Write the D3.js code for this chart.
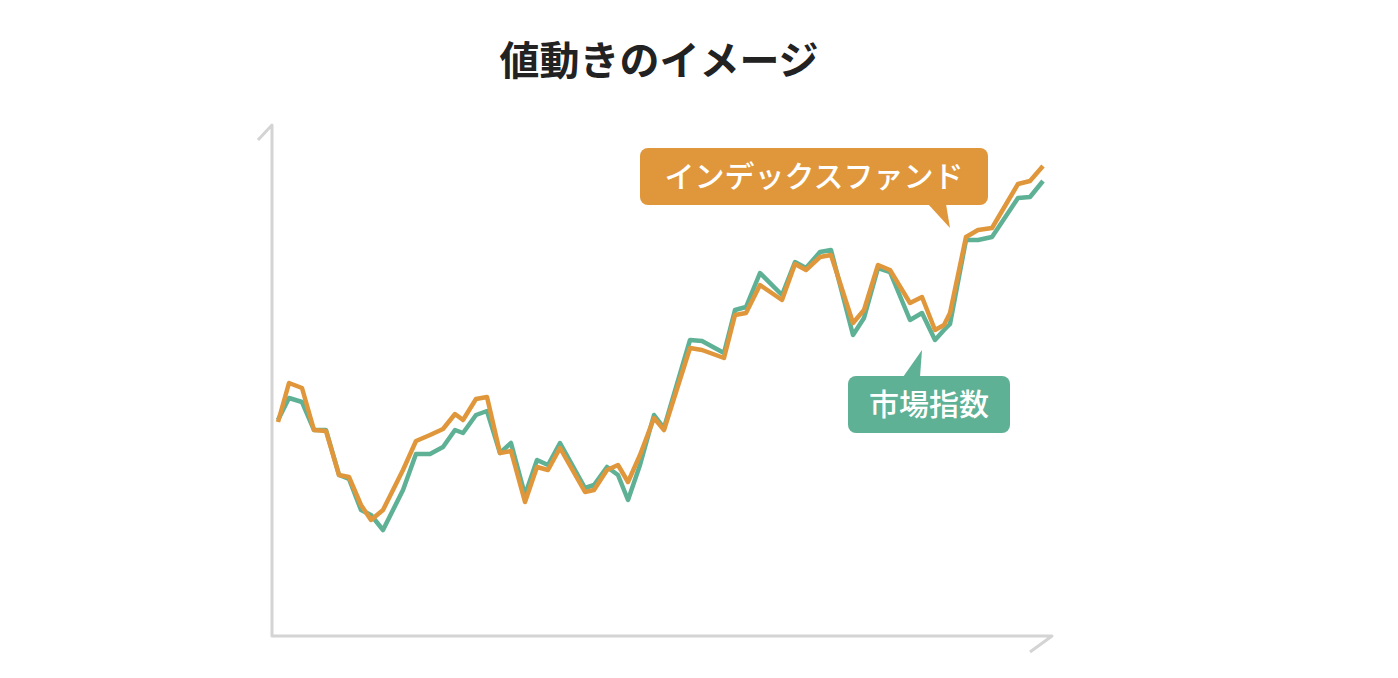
<!DOCTYPE html><html><head><meta charset="utf-8"><script src="https://cdn.jsdelivr.net/npm/d3@7"></script>
<style>body{margin:0;background:#fff}</style></head><body><svg id="c" width="1398" height="678"></svg><script>
const days=[0,11,24,36,48,61,71,83,93,105,125,138,152,165,177,185,198,209,222,233,247,259,270,282,307,316,329,340,350,362,376,386,412,424,446,457,468,482,504,517,528,542,553,575,586,600,612,632,644,657,666,672,688,700,714,740,752,765];
const fund=[214,253,248,206,205,161,159,131,116,126,166,195,201,207,222,216,237,239,183,185,134,169,166,188,144,146,166,171,154,181,218,206,288,286,278,321,323,351,336,372,366,379,381,313,326,371,366,333,339,306,311,323,399,406,408,452,455,470];
const market=[216,238,234,206,206,161,157,126,121,106,146,182,182,189,206,203,221,225,183,193,141,176,171,193,148,151,169,161,136,171,221,208,296,295,283,326,329,363,341,374,368,384,386,301,318,368,364,316,323,296,306,312,396,396,399,438,439,455];
const title="値動きのイメージ", fundLabel="インデックスファンド", marketLabel="市場指数";
const svg=d3.select("#c");
const x=d3.scaleLinear().domain([0,765]).range([278,1043]);
const y=d3.scaleLinear().domain([0,516]).range([636,120]);
const F="'Noto Sans CJK JP',sans-serif";
svg.append("text").attr("x",659).attr("y",75).attr("text-anchor","middle").attr("font-family",F).attr("font-weight",700).attr("font-size",40).attr("fill","#222").text(title);
const ax="#d4d4d4";
svg.append("path").attr("d","M258,140 L272,125 L272,636 L1052,636 L1030,652").attr("fill","none").attr("stroke",ax).attr("stroke-width",3).attr("stroke-linejoin","round");
const line=d3.line().x((d,i)=>x(days[i])).y(d=>y(d));
svg.append("path").datum(market).attr("d",line).attr("fill","none").attr("stroke","#5fb196").attr("stroke-width",4.5).attr("stroke-linejoin","round");
svg.append("path").datum(fund).attr("d",line).attr("fill","none").attr("stroke","#e0973b").attr("stroke-width",4.5).attr("stroke-linejoin","round");
// labels
svg.append("path").attr("d","M928,204 L950,228 L946,204 Z").attr("fill","#e0973b");
svg.append("rect").attr("x",640).attr("y",148).attr("width",348).attr("height",57).attr("rx",8).attr("fill","#e0973b");
svg.append("text").attr("x",814).attr("y",187).attr("text-anchor","middle").attr("font-family",F).attr("font-weight",500).attr("font-size",30).attr("fill","#fff").text(fundLabel);
svg.append("path").attr("d","M903,377 L922,350 L920,377 Z").attr("fill","#5fb196");
svg.append("rect").attr("x",848).attr("y",376).attr("width",162).attr("height",57).attr("rx",8).attr("fill","#5fb196");
svg.append("text").attr("x",929).attr("y",415).attr("text-anchor","middle").attr("font-family",F).attr("font-weight",500).attr("font-size",30).attr("fill","#fff").text(marketLabel);
</script></body></html>
